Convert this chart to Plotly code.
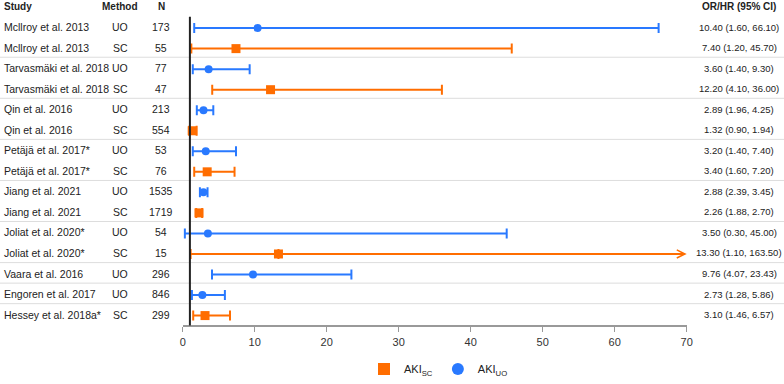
import plotly.graph_objects as go

studies = ["Mcllroy et al. 2013", "Mcllroy et al. 2013", "Tarvasmäki et al. 2018", "Tarvasmäki et al. 2018",
           "Qin et al. 2016", "Qin et al. 2016", "Petäjä et al. 2017*", "Petäjä et al. 2017*",
           "Jiang et al. 2021", "Jiang et al. 2021", "Joliat et al. 2020*", "Joliat et al. 2020*",
           "Vaara et al. 2016", "Engoren et al. 2017", "Hessey et al. 2018a*"]
methods = ["UO", "SC", "UO", "SC", "UO", "SC", "UO", "SC", "UO", "SC", "UO", "SC", "UO", "UO", "SC"]
n_vals = [173, 55, 77, 47, 213, 554, 53, 76, 1535, 1719, 54, 15, 296, 846, 299]
est = [10.40, 7.40, 3.60, 12.20, 2.89, 1.32, 3.20, 3.40, 2.88, 2.26, 3.50, 13.30, 9.76, 2.73, 3.10]
lo = [1.60, 1.20, 1.40, 4.10, 1.96, 0.90, 1.40, 1.60, 2.39, 1.88, 0.30, 1.10, 4.07, 1.28, 1.46]
hi = [66.10, 45.70, 9.30, 36.00, 4.25, 1.94, 7.40, 7.20, 3.45, 2.70, 45.00, 163.50, 23.43, 5.86, 6.57]
x_ticks = [0, 10, 20, 30, 40, 50, 60, 70]
X_MAX = 70
REF = 1

W, H = 784, 384
FONT = "Liberation Sans, Arial, sans-serif"
TXT = "#222222"
BLUE = "#2979ff"
ORANGE = "#ff6d00"

rows = list(range(len(studies)))


def px(x):
    return x / W


def py(y):
    return 1 - y / H


fig = go.Figure()

series = [("UO", BLUE, "circle", 8, "AKI<sub>UO</sub>"), ("SC", ORANGE, "square", 9, "AKI<sub>SC</sub>")]
for m, col, sym, size, name in series:
    idx = [i for i in rows if methods[i] == m]
    xs = [est[i] for i in idx]
    plus = [(hi[i] - est[i]) if hi[i] <= X_MAX else 0 for i in idx]
    minus = [est[i] - lo[i] for i in idx]
    fig.add_trace(go.Scatter(
        x=xs, y=idx, mode="markers", showlegend=False, cliponaxis=False,
        marker=dict(color=col, symbol=sym, size=size, line=dict(width=0)),
        error_x=dict(type="data", symmetric=False, array=plus, arrayminus=minus,
                     color=col, thickness=2, width=5),
        hoverinfo="skip"))

# legend-only traces (SC first as in reference)
for m, col, sym, size, name in [series[1], series[0]]:
    fig.add_trace(go.Scatter(x=[None], y=[None], mode="markers", name=name,
                             marker=dict(color=col, symbol=sym, size=12)))

annotations = []
shapes = []

# arrows for intervals clipped at the axis end
for i in rows:
    if hi[i] > X_MAX:
        col = BLUE if methods[i] == "UO" else ORANGE
        annotations.append(dict(x=X_MAX, y=i, ax=est[i], ay=i, xref="x", yref="y", axref="x", ayref="y",
                                text="", showarrow=True, arrowhead=5, arrowsize=0.8, arrowwidth=2,
                                arrowcolor=col, standoff=0))

# table text
COLS = dict(study=2, method=120, n=161, ci=739)
TS = 10.5
for i in rows:
    annotations.append(dict(x=px(COLS["study"]), y=i, xref="paper", yref="y", text=studies[i],
                            showarrow=False, xanchor="left", yanchor="middle", yshift=1,
                            font=dict(family=FONT, size=TS, color=TXT)))
    annotations.append(dict(x=px(COLS["method"]), y=i, xref="paper", yref="y", text=methods[i],
                            showarrow=False, xanchor="center", yanchor="middle", yshift=1,
                            font=dict(family=FONT, size=TS, color=TXT)))
    annotations.append(dict(x=px(COLS["n"]), y=i, xref="paper", yref="y", text=str(n_vals[i]),
                            showarrow=False, xanchor="center", yanchor="middle", yshift=1,
                            font=dict(family=FONT, size=TS, color=TXT)))
    annotations.append(dict(x=px(COLS["ci"]), y=i, xref="paper", yref="y",
                            text=f"{est[i]:.2f} ({lo[i]:.2f}, {hi[i]:.2f})",
                            showarrow=False, xanchor="center", yanchor="middle", yshift=1,
                            font=dict(family=FONT, size=9.5, color=TXT)))

headers = [("Study", COLS["study"], "left"), ("Method", COLS["method"], "center"),
           ("N", COLS["n"], "center"), ("OR/HR (95% CI)", COLS["ci"], "center")]
for t, x, anc in headers:
    annotations.append(dict(x=px(x), y=py(7), xref="paper", yref="paper", text=f"<b>{t}</b>",
                            showarrow=False, xanchor=anc, yanchor="middle",
                            font=dict(family=FONT, size=10, color=TXT)))

# group separators (where study changes)
for i in rows[:-1]:
    if studies[i] != studies[i + 1]:
        shapes.append(dict(type="line", xref="paper", yref="y", x0=0, x1=1, y0=i + 0.42, y1=i + 0.42,
                           line=dict(color="#dddddd", width=1), layer="below"))

# reference line at 1
shapes.append(dict(type="line", xref="x", yref="y domain", x0=REF, x1=REF, y0=0, y1=1,
                   line=dict(color="#222222", width=2), layer="above"))

fig.update_layout(
    width=W, height=H, autosize=False,
    margin=dict(l=0, r=0, t=0, b=0, pad=0),
    paper_bgcolor="white", plot_bgcolor="white",
    font=dict(family=FONT, size=11, color=TXT),
    xaxis=dict(domain=[px(182.7), px(686.7)], range=[0, X_MAX], tickvals=x_ticks,
               showgrid=False, zeroline=False, showline=True, linecolor="#999999", linewidth=2,
               ticks="outside", ticklen=5, tickcolor="#999999", tickwidth=1, automargin=False,
               tickfont=dict(family=FONT, size=11, color="#333333")),
    yaxis=dict(domain=[py(328), py(17)], range=[14.48, -0.546], visible=False, automargin=False),
    showlegend=True,
    legend=dict(orientation="h", x=px(364), xanchor="left", y=py(372), yanchor="middle",
                font=dict(family=FONT, size=11, color=TXT), bgcolor="rgba(0,0,0,0)",
                itemwidth=30, tracegroupgap=0),
    annotations=annotations,
    shapes=shapes,
)

fig.write_html("out.html", config={"displayModeBar": False},
               post_script="document.body.style.margin='0';document.body.style.overflow='hidden';")
